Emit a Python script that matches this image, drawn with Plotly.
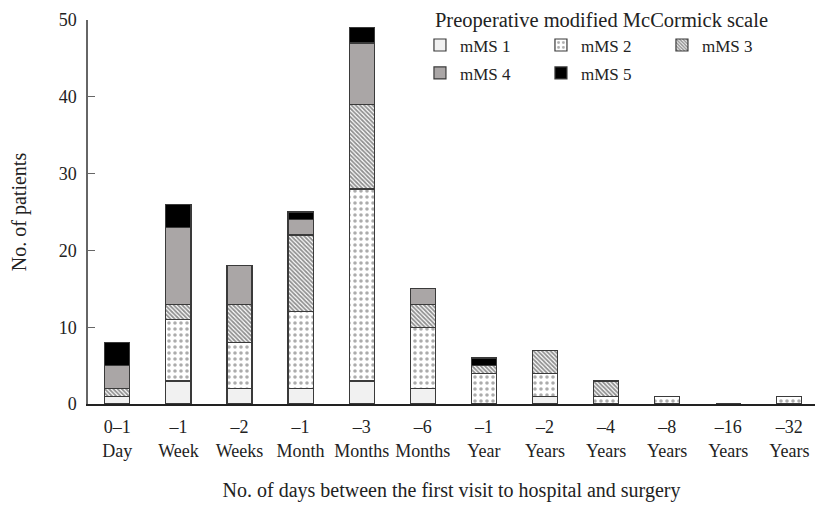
import plotly.graph_objects as go

categories = ["0–1<br>Day", "–1<br>Week", "–2<br>Weeks", "–1<br>Month", "–3<br>Months",
              "–6<br>Months", "–1<br>Year", "–2<br>Years", "–4<br>Years", "–8<br>Years",
              "–16<br>Years", "–32<br>Years"]
mms1 = [1, 3, 2, 2, 3, 2, 0, 1, 0, 0, 0, 0]
mms2 = [0, 8, 6, 10, 25, 8, 4, 3, 1, 1, 0, 1]
mms3 = [1, 2, 5, 10, 11, 3, 1, 3, 2, 0, 0, 0]
mms4 = [3, 10, 5, 2, 8, 2, 0, 0, 0, 0, 0, 0]
mms5 = [3, 3, 0, 1, 2, 0, 1, 0, 0, 0, 0, 0]
y_ticks = [0, 10, 20, 30, 40, 50]

FONT = "Liberation Serif"
outline = dict(color="#3a3a3a", width=1.2)
x = list(range(len(categories)))

fig = go.Figure()
fig.add_trace(go.Bar(x=x, y=mms1, name="mMS 1", legend="legend",
                     marker=dict(color="#f1f1f1", line=outline)))
fig.add_trace(go.Bar(x=x, y=mms2, name="mMS 2", legend="legend",
                     marker=dict(color="white", line=outline,
                                 pattern=dict(shape=".", fgcolor="#5a5a5a", bgcolor="white",
                                              size=6, solidity=0.28))))
fig.add_trace(go.Bar(x=x, y=mms3, name="mMS 3", legend="legend",
                     marker=dict(color="white", line=outline,
                                 pattern=dict(shape="\\", fgcolor="#222222", bgcolor="white",
                                              size=3, solidity=0.6))))
fig.add_trace(go.Bar(x=x, y=mms4, name="mMS 4", legend="legend2",
                     marker=dict(color="#aaa6a6", line=outline)))
fig.add_trace(go.Bar(x=x, y=mms5, name="mMS 5", legend="legend2",
                     marker=dict(color="black", line=outline)))

fig.update_layout(
    barmode="stack",
    bargap=0.59,
    width=815, height=497,
    margin=dict(l=80, r=8, t=12, b=101, autoexpand=False),
    paper_bgcolor="white", plot_bgcolor="white",
    font=dict(family=FONT, size=18, color="#222222"),
    showlegend=True,
    legend=dict(orientation="h", x=0.4745, y=1.05, xanchor="left", yanchor="top",
                title=dict(text="Preoperative modified McCormick scale", side="top",
                           font=dict(family=FONT, size=20.5)),
                entrywidth=89, entrywidthmode="pixels", itemwidth=30, indentation=-13,
                font=dict(family=FONT, size=17), bgcolor="rgba(0,0,0,0)",
                traceorder="normal"),
    legend2=dict(orientation="h", x=0.4745, y=0.908, xanchor="left", yanchor="top",
                 entrywidth=89, entrywidthmode="pixels", itemwidth=30, indentation=-13,
                 font=dict(family=FONT, size=17), bgcolor="rgba(0,0,0,0)",
                 traceorder="normal"),
    xaxis=dict(range=[-0.48, 11.42], tickmode="array", tickvals=x, ticktext=categories,
               tickangle=0, automargin=False,
               showline=True, linecolor="#222222", linewidth=1.5, ticks="",
               showgrid=False, zeroline=False, ticklabelstandoff=6,
               title=dict(text="No. of days between the first visit to hospital and surgery",
                          standoff=23, font=dict(size=20))),
    yaxis=dict(range=[0, 50], tickmode="array", tickvals=y_ticks, automargin=False,
               showline=True, linecolor="#666666", linewidth=1.5, ticks="inside",
               ticklen=7, tickcolor="#666666", showgrid=False, zeroline=False,
               ticklabelstandoff=6,
               title=dict(text="No. of patients", standoff=28, font=dict(size=20))),
)

fig.write_html("out.html")
